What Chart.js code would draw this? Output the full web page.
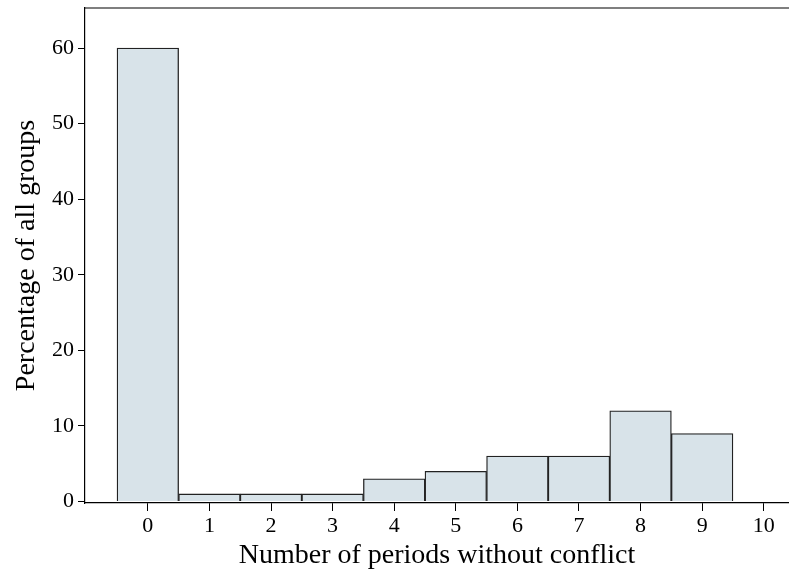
<!DOCTYPE html>
<html>
<head>
<meta charset="utf-8">
<script src="https://cdn.jsdelivr.net/npm/chart.js@4/dist/chart.umd.min.js"></script>
<style>
  html, body { margin: 0; padding: 0; background: #fff; }
  #wrap { width: 789px; height: 576px; }
</style>
</head>
<body>
<div id="wrap"><canvas id="histChart" width="789" height="576"></canvas></div>
<script>
// periods without conflict (bins) and percentage of groups
const periods = [0, 1, 2, 3, 4, 5, 6, 7, 8, 9];
const percentages = [60, 1, 1, 1, 3, 4, 6, 6, 12, 9];
const xTickValues = [0, 1, 2, 3, 4, 5, 6, 7, 8, 9, 10];
const yTickValues = [0, 10, 20, 30, 40, 50, 60];

const serif = "'Liberation Serif', 'DejaVu Serif', serif";

// top frame line
const topLine = {
    id: 'topLine',
    afterDraw(chart) {
        const { ctx, chartArea } = chart;
        ctx.save();
        ctx.strokeStyle = '#000';
        ctx.lineWidth = 1.2;
        ctx.beginPath();
        ctx.moveTo(chartArea.left, chartArea.top);
        ctx.lineTo(chartArea.right, chartArea.top);
        ctx.stroke();
        ctx.restore();
    }
};

const ctx = document.getElementById('histChart').getContext('2d');
const chart = new Chart(ctx, {
    type: 'bar',
    data: {
        datasets: [{
            label: 'Percentage of all groups',
            data: periods.map((p, i) => ({ x: p, y: percentages[i] })),
            backgroundColor: '#d8e3e9',
            borderColor: '#222',
            borderWidth: 1.3,
            barPercentage: 1,
            categoryPercentage: 1
        }]
    },
    options: {
        responsive: false,
        animation: false,
        layout: { padding: { top: 8, right: 0, left: 0, bottom: 0 } },
        plugins: {
            legend: { display: false },
            tooltip: { enabled: false }
        },
        scales: {
            x: {
                type: 'linear',
                offset: false,
                min: -1.02,
                max: 10.41,
                afterBuildTicks: scale => { scale.ticks = xTickValues.map(v => ({ value: v })); },
                afterFit: scale => { scale.height = 73; scale.paddingRight = 0; scale.paddingLeft = 0; },
                grid: { offset: false, drawOnChartArea: false, drawTicks: true, tickLength: 8, color: '#000' },
                border: { display: true, color: '#000', width: 1.2 },
                ticks: { color: '#000', font: { family: serif, size: 22 }, padding: 2, maxRotation: 0 },
                title: {
                    display: true,
                    text: 'Number of periods without conflict',
                    color: '#000',
                    font: { family: serif, size: 28 },
                    padding: { top: 0, bottom: 4 }
                }
            },
            y: {
                min: -0.2,
                max: 65.3,
                afterBuildTicks: scale => { scale.ticks = yTickValues.map(v => ({ value: v })); },
                afterFit: scale => { scale.width = 85; scale.paddingTop = 0; scale.paddingBottom = 0; },
                grid: { drawOnChartArea: false, drawTicks: true, tickLength: 7, color: '#000' },
                border: { display: true, color: '#000', width: 1.2 },
                ticks: { color: '#000', font: { family: serif, size: 22 }, padding: 4 },
                title: {
                    display: true,
                    text: 'Percentage of all groups',
                    color: '#000',
                    font: { family: serif, size: 28 },
                    padding: { top: 10, bottom: 0 }
                }
            }
        }
    },
    plugins: [topLine]
});
</script>
</body>
</html>
